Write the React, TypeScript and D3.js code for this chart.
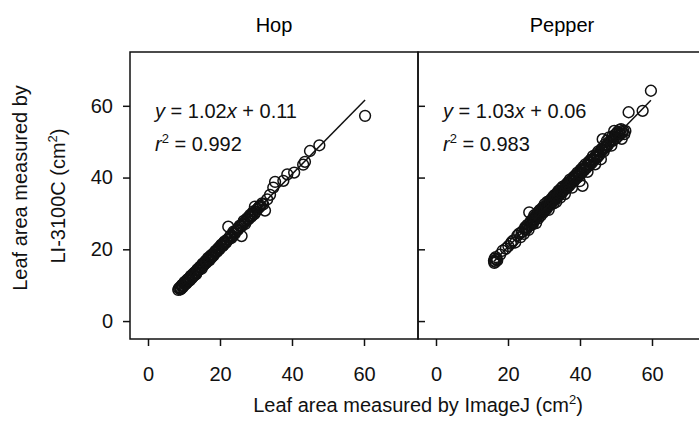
import React, { useEffect, useRef } from 'react';
import * as d3 from 'd3';

// Panel titles and regression text
const panels = ['Hop', 'Pepper'];
const slopes = [1.02, 1.03];
const intercepts = [0.11, 0.06];
const slopeLabels = ['1.02', '1.03'];
const interceptLabels = ['0.11', '0.06'];
const r2Labels = ['0.992', '0.983'];

const xTicks = [0, 20, 40, 60];
const yTicks = [0, 20, 40, 60];

// Hop: leaf area by ImageJ (x) and by LI-3100C (y)
const hopX = [8.4, 8.9, 9.2, 9.5, 9.8, 10.0, 10.3, 10.5, 10.8, 11.0, 11.2, 11.5, 11.7, 12.0, 12.3, 12.5, 12.8, 13.1, 13.4, 13.6,
  14.0, 14.3, 14.7, 15.0, 15.4, 15.8, 16.1, 16.5, 16.9, 17.3, 17.6, 18.0, 18.3, 18.7, 19.1, 19.4, 19.8, 20.2, 20.6, 21.0,
  21.5, 22.0, 22.3, 22.5, 23.0, 23.4, 23.9, 24.3, 24.8, 25.2, 25.7, 26.0, 26.3, 26.8, 27.2, 27.7, 28.1, 28.6, 29.0, 29.5,
  29.7, 30.2, 30.8, 31.3, 32.0, 32.5, 33.1, 33.9, 34.8, 35.3, 37.6, 38.7, 40.6, 43.1, 43.6, 45.0, 47.6, 60.3,
  8.6, 9.0, 9.3, 9.6, 9.9, 10.2, 10.6, 10.9, 11.3, 11.6, 11.9, 12.2, 12.6, 12.9, 13.3, 13.8, 14.2, 14.5, 14.9, 15.2,
  15.6, 16.0, 16.3, 16.7, 17.1, 17.5, 17.9, 18.5, 18.9, 19.3, 19.7, 20.0, 20.4, 20.9, 21.3, 21.8, 22.7, 23.2, 23.7, 24.1,
  24.6, 25.0, 25.5, 26.1, 26.6, 27.0, 27.5, 28.0, 28.4, 28.9, 29.3, 29.9, 30.5, 31.0, 31.7];
const hopY = [8.7, 9.4, 9.0, 10.1, 9.7, 10.6, 10.2, 11.0, 10.7, 11.6, 11.1, 12.0, 11.6, 12.5, 12.2, 13.1, 12.7, 13.6, 13.3, 14.2,
  14.1, 14.9, 14.8, 15.6, 15.5, 16.4, 16.2, 17.0, 17.1, 18.0, 17.7, 18.7, 18.4, 19.5, 19.3, 20.1, 20.0, 21.0, 20.8, 21.8,
  21.7, 22.7, 26.3, 22.8, 23.9, 23.7, 24.6, 24.9, 25.4, 26.0, 26.3, 23.7, 27.1, 27.5, 28.0, 28.3, 29.1, 29.0, 30.0, 29.8,
  31.9, 31.0, 31.7, 32.2, 32.5, 30.8, 33.9, 35.2, 37.2, 38.8, 39.1, 40.9, 41.4, 43.6, 44.4, 47.4, 49.0, 57.2,
  9.1, 8.8, 9.8, 9.4, 10.4, 10.9, 10.4, 11.4, 11.8, 11.3, 12.6, 12.0, 12.6, 13.5, 13.0, 14.5, 14.3, 15.2, 14.6, 16.0,
  15.8, 16.8, 16.4, 17.6, 17.0, 18.3, 18.0, 19.0, 19.6, 19.6, 20.5, 20.4, 21.3, 21.1, 22.2, 22.1, 23.5, 23.2, 24.9, 24.3,
  25.3, 25.5, 26.6, 26.5, 27.9, 27.1, 28.6, 28.5, 29.6, 29.4, 30.6, 30.4, 31.3, 31.9, 32.8];

// Pepper: leaf area by ImageJ (x) and by LI-3100C (y)
const pepperX = [16.1, 16.3, 16.5, 16.8, 17.0, 18.5, 19.4, 20.1, 20.8, 21.5, 22.0, 22.6, 23.1, 23.5, 24.0, 24.4, 24.8, 25.1, 25.4, 25.7,
  25.9, 26.2, 26.5, 26.8, 27.0, 27.3, 27.5, 27.8, 28.0, 28.2, 28.4, 28.7, 28.9, 29.1, 29.3, 29.6, 29.8, 30.0, 30.2, 30.4,
  30.7, 30.9, 31.1, 31.3, 31.5, 31.8, 32.0, 32.2, 32.5, 32.7, 32.9, 33.1, 33.4, 33.6, 33.8, 34.0, 34.3, 34.5, 34.7, 35.0,
  35.2, 35.5, 35.8, 36.0, 36.3, 36.6, 36.9, 37.2, 37.5, 37.8, 38.1, 38.4, 38.7, 39.0, 39.3, 39.6, 39.9, 40.2, 40.5, 40.7,
  40.9, 41.2, 41.5, 41.8, 42.1, 42.4, 42.7, 43.0, 43.3, 43.6, 43.9, 44.2, 44.5, 44.8, 45.1, 45.4, 45.8, 46.0, 46.3, 46.6,
  46.9, 47.2, 47.5, 47.8, 48.1, 48.4, 48.7, 49.0, 49.3, 49.5, 49.8, 50.1, 50.4, 50.7, 51.0, 51.3, 51.6, 52.0, 52.3, 53.5,
  57.4, 59.7,
  16.2, 16.6, 17.8, 21.0, 23.8, 24.6, 25.3, 26.0, 26.4, 26.9, 27.2, 27.6, 27.9, 28.3, 28.6, 29.0, 29.4, 29.7, 30.1, 30.5,
  30.8, 31.2, 31.6, 31.9, 32.3, 32.6, 33.0, 33.3, 33.7, 34.1, 34.4, 34.8, 35.1, 35.6, 35.9, 36.2, 36.5, 36.8, 37.1, 37.4,
  37.7, 38.0, 38.3, 38.6, 38.9, 39.2, 39.5, 39.8, 40.1, 40.4, 41.0, 41.4, 41.9, 42.3, 42.8, 43.2, 43.7, 44.1, 44.6, 45.0,
  45.6, 46.2, 46.7, 47.3, 47.9, 48.5, 49.1, 49.6, 50.2, 50.8, 51.4, 51.8, 52.6];
const pepperY = [16.8, 17.4, 16.5, 17.2, 16.9, 19.6, 20.2, 20.9, 21.6, 22.5, 21.9, 23.8, 24.4, 23.4, 25.0, 24.3, 26.2, 25.6, 26.8, 25.4,
  30.3, 27.4, 26.9, 28.3, 27.6, 29.5, 28.2, 27.3, 29.0, 30.1, 28.6, 29.8, 31.0, 29.4, 30.5, 31.6, 30.2, 31.5, 32.6, 30.9,
  31.9, 33.2, 32.1, 31.0, 33.5, 32.6, 34.0, 33.0, 34.6, 32.8, 35.1, 34.0, 33.2, 35.6, 34.6, 36.3, 35.2, 34.4, 36.9, 35.7,
  37.5, 36.4, 35.4, 37.8, 37.0, 38.6, 37.6, 39.4, 38.3, 37.2, 40.0, 39.1, 40.6, 39.8, 41.4, 40.3, 39.0, 42.2, 41.3, 37.7,
  43.0, 42.1, 43.7, 42.7, 41.6, 44.4, 43.5, 45.0, 44.1, 46.0, 44.8, 43.7, 46.5, 45.6, 47.3, 46.3, 45.1, 48.0, 50.7, 47.3,
  49.2, 48.4, 50.3, 49.1, 51.2, 50.0, 48.9, 51.5, 50.6, 53.0, 52.0, 51.0, 52.7, 51.6, 53.3, 52.2, 50.8, 53.1, 52.1, 58.2,
  58.6, 64.2,
  16.2, 17.8, 18.5, 22.0, 24.7, 25.6, 26.2, 26.6, 28.0, 27.0, 28.9, 28.7, 29.6, 29.3, 30.6, 29.9, 30.9, 31.0, 30.8, 32.1,
  31.4, 32.7, 32.3, 33.3, 33.6, 33.4, 34.4, 34.7, 34.9, 35.5, 35.9, 35.9, 36.4, 37.0, 37.3, 38.1, 37.5, 38.2, 38.5, 39.0,
  38.9, 39.3, 40.2, 39.6, 40.4, 40.1, 41.0, 41.2, 41.0, 41.9, 42.4, 42.5, 43.4, 43.4, 44.2, 44.7, 45.2, 45.6, 45.9, 46.2,
  47.2, 47.6, 48.3, 48.9, 49.6, 50.4, 50.2, 51.3, 52.3, 52.4, 53.5, 52.6, 53.0];

const seriesX = [hopX, pepperX];
const seriesY = [hopY, pepperY];

const App = () => {
  const ref = useRef(null);

  useEffect(() => {
    document.body.style.margin = '0';
    const svg = d3.select(ref.current);
    svg.selectAll('*').remove();

    const font = '"Liberation Sans", Arial, sans-serif';
    const fs = 20;
    const top = 52;
    const bottom = 339;
    const panelW = 288;
    const lefts = [130, 418];

    const y = d3.scaleLinear().domain([-5, 75]).range([bottom, top]);

    svg.attr('font-family', font);

    panels.forEach((name, i) => {
      const x0 = lefts[i];
      const x = d3.scaleLinear().domain([-5, 75]).range([x0, x0 + panelW]);
      const g = svg.append('g');

      // title
      g.append('text')
        .attr('x', x0 + panelW / 2)
        .attr('y', 32)
        .attr('text-anchor', 'middle')
        .attr('font-size', fs)
        .text(name);

      // x axis
      const xa = g.append('g')
        .attr('transform', `translate(0,${bottom})`)
        .call(d3.axisBottom(x).tickValues(xTicks).tickSize(7).tickPadding(21));
      xa.select('.domain').remove();
      xa.selectAll('line').attr('stroke', '#111').attr('stroke-width', 1.5);
      xa.selectAll('text').attr('font-size', fs).attr('font-family', font).attr('fill', '#111');

      // y axis: labelled on the left panel, inner ticks on the right one
      if (i === 0) {
        const ya = g.append('g')
          .attr('transform', `translate(${x0},0)`)
          .call(d3.axisLeft(y).tickValues(yTicks).tickSize(7).tickPadding(10));
        ya.select('.domain').remove();
        ya.selectAll('line').attr('stroke', '#111').attr('stroke-width', 1.5);
        ya.selectAll('text').attr('font-size', fs).attr('font-family', font).attr('fill', '#111');
      } else {
        const ya = g.append('g')
          .attr('transform', `translate(${x0},0)`)
          .call(d3.axisRight(y).tickValues(yTicks).tickSize(7).tickFormat(() => ''));
        ya.select('.domain').remove();
        ya.selectAll('line').attr('stroke', '#111').attr('stroke-width', 1.5);
      }

      // frame
      g.append('rect')
        .attr('x', x0)
        .attr('y', top)
        .attr('width', panelW)
        .attr('height', bottom - top)
        .attr('fill', 'none')
        .attr('stroke', '#111')
        .attr('stroke-width', 1.5);

      // points
      const xs = seriesX[i];
      const ys = seriesY[i];
      g.append('g')
        .selectAll('circle')
        .data(xs.map((v, k) => [v, ys[k]]))
        .join('circle')
        .attr('cx', d => x(d[0]))
        .attr('cy', d => y(d[1]))
        .attr('r', 5.4)
        .attr('fill', 'none')
        .attr('stroke', '#111')
        .attr('stroke-width', 1.5);

      // fitted line
      const ext = d3.extent(xs);
      g.append('line')
        .attr('x1', x(ext[0]))
        .attr('y1', y(slopes[i] * ext[0] + intercepts[i]))
        .attr('x2', x(ext[1]))
        .attr('y2', y(slopes[i] * ext[1] + intercepts[i]))
        .attr('stroke', '#111')
        .attr('stroke-width', 1.5);

      // equation
      const eq = g.append('text')
        .attr('x', x0 + 25)
        .attr('y', 118)
        .attr('font-size', fs)
        .attr('fill', '#111');
      eq.append('tspan').attr('font-style', 'italic').text('y');
      eq.append('tspan').text(` = ${slopeLabels[i]}`);
      eq.append('tspan').attr('font-style', 'italic').text('x');
      eq.append('tspan').text(` + ${interceptLabels[i]}`);

      const r2 = g.append('text')
        .attr('x', x0 + 25)
        .attr('y', 151)
        .attr('font-size', fs)
        .attr('fill', '#111');
      r2.append('tspan').attr('font-style', 'italic').text('r');
      r2.append('tspan').attr('font-size', 13).attr('dy', -8).text('2');
      r2.append('tspan').attr('dy', 8).text(` = ${r2Labels[i]}`);
    });

    // y axis title
    svg.append('text')
      .attr('transform', 'translate(27,188) rotate(-90)')
      .attr('text-anchor', 'middle')
      .attr('font-size', fs)
      .attr('fill', '#111')
      .text('Leaf area measured by');
    const yt2 = svg.append('text')
      .attr('transform', 'translate(65,196) rotate(-90)')
      .attr('text-anchor', 'middle')
      .attr('font-size', fs)
      .attr('fill', '#111');
    yt2.append('tspan').text('LI-3100C (cm');
    yt2.append('tspan').attr('font-size', 13).attr('dy', -8).text('2');
    yt2.append('tspan').attr('dy', 8).text(')');

    // x axis title
    const xt = svg.append('text')
      .attr('x', 418)
      .attr('y', 412)
      .attr('text-anchor', 'middle')
      .attr('font-size', fs)
      .attr('fill', '#111');
    xt.append('tspan').text('Leaf area measured by ImageJ (cm');
    xt.append('tspan').attr('font-size', 13).attr('dy', -8).text('2');
    xt.append('tspan').attr('dy', 8).text(')');
  }, []);

  return <svg ref={ref} width={699} height={421} style={{ display: 'block' }}></svg>;
};

export default App;
